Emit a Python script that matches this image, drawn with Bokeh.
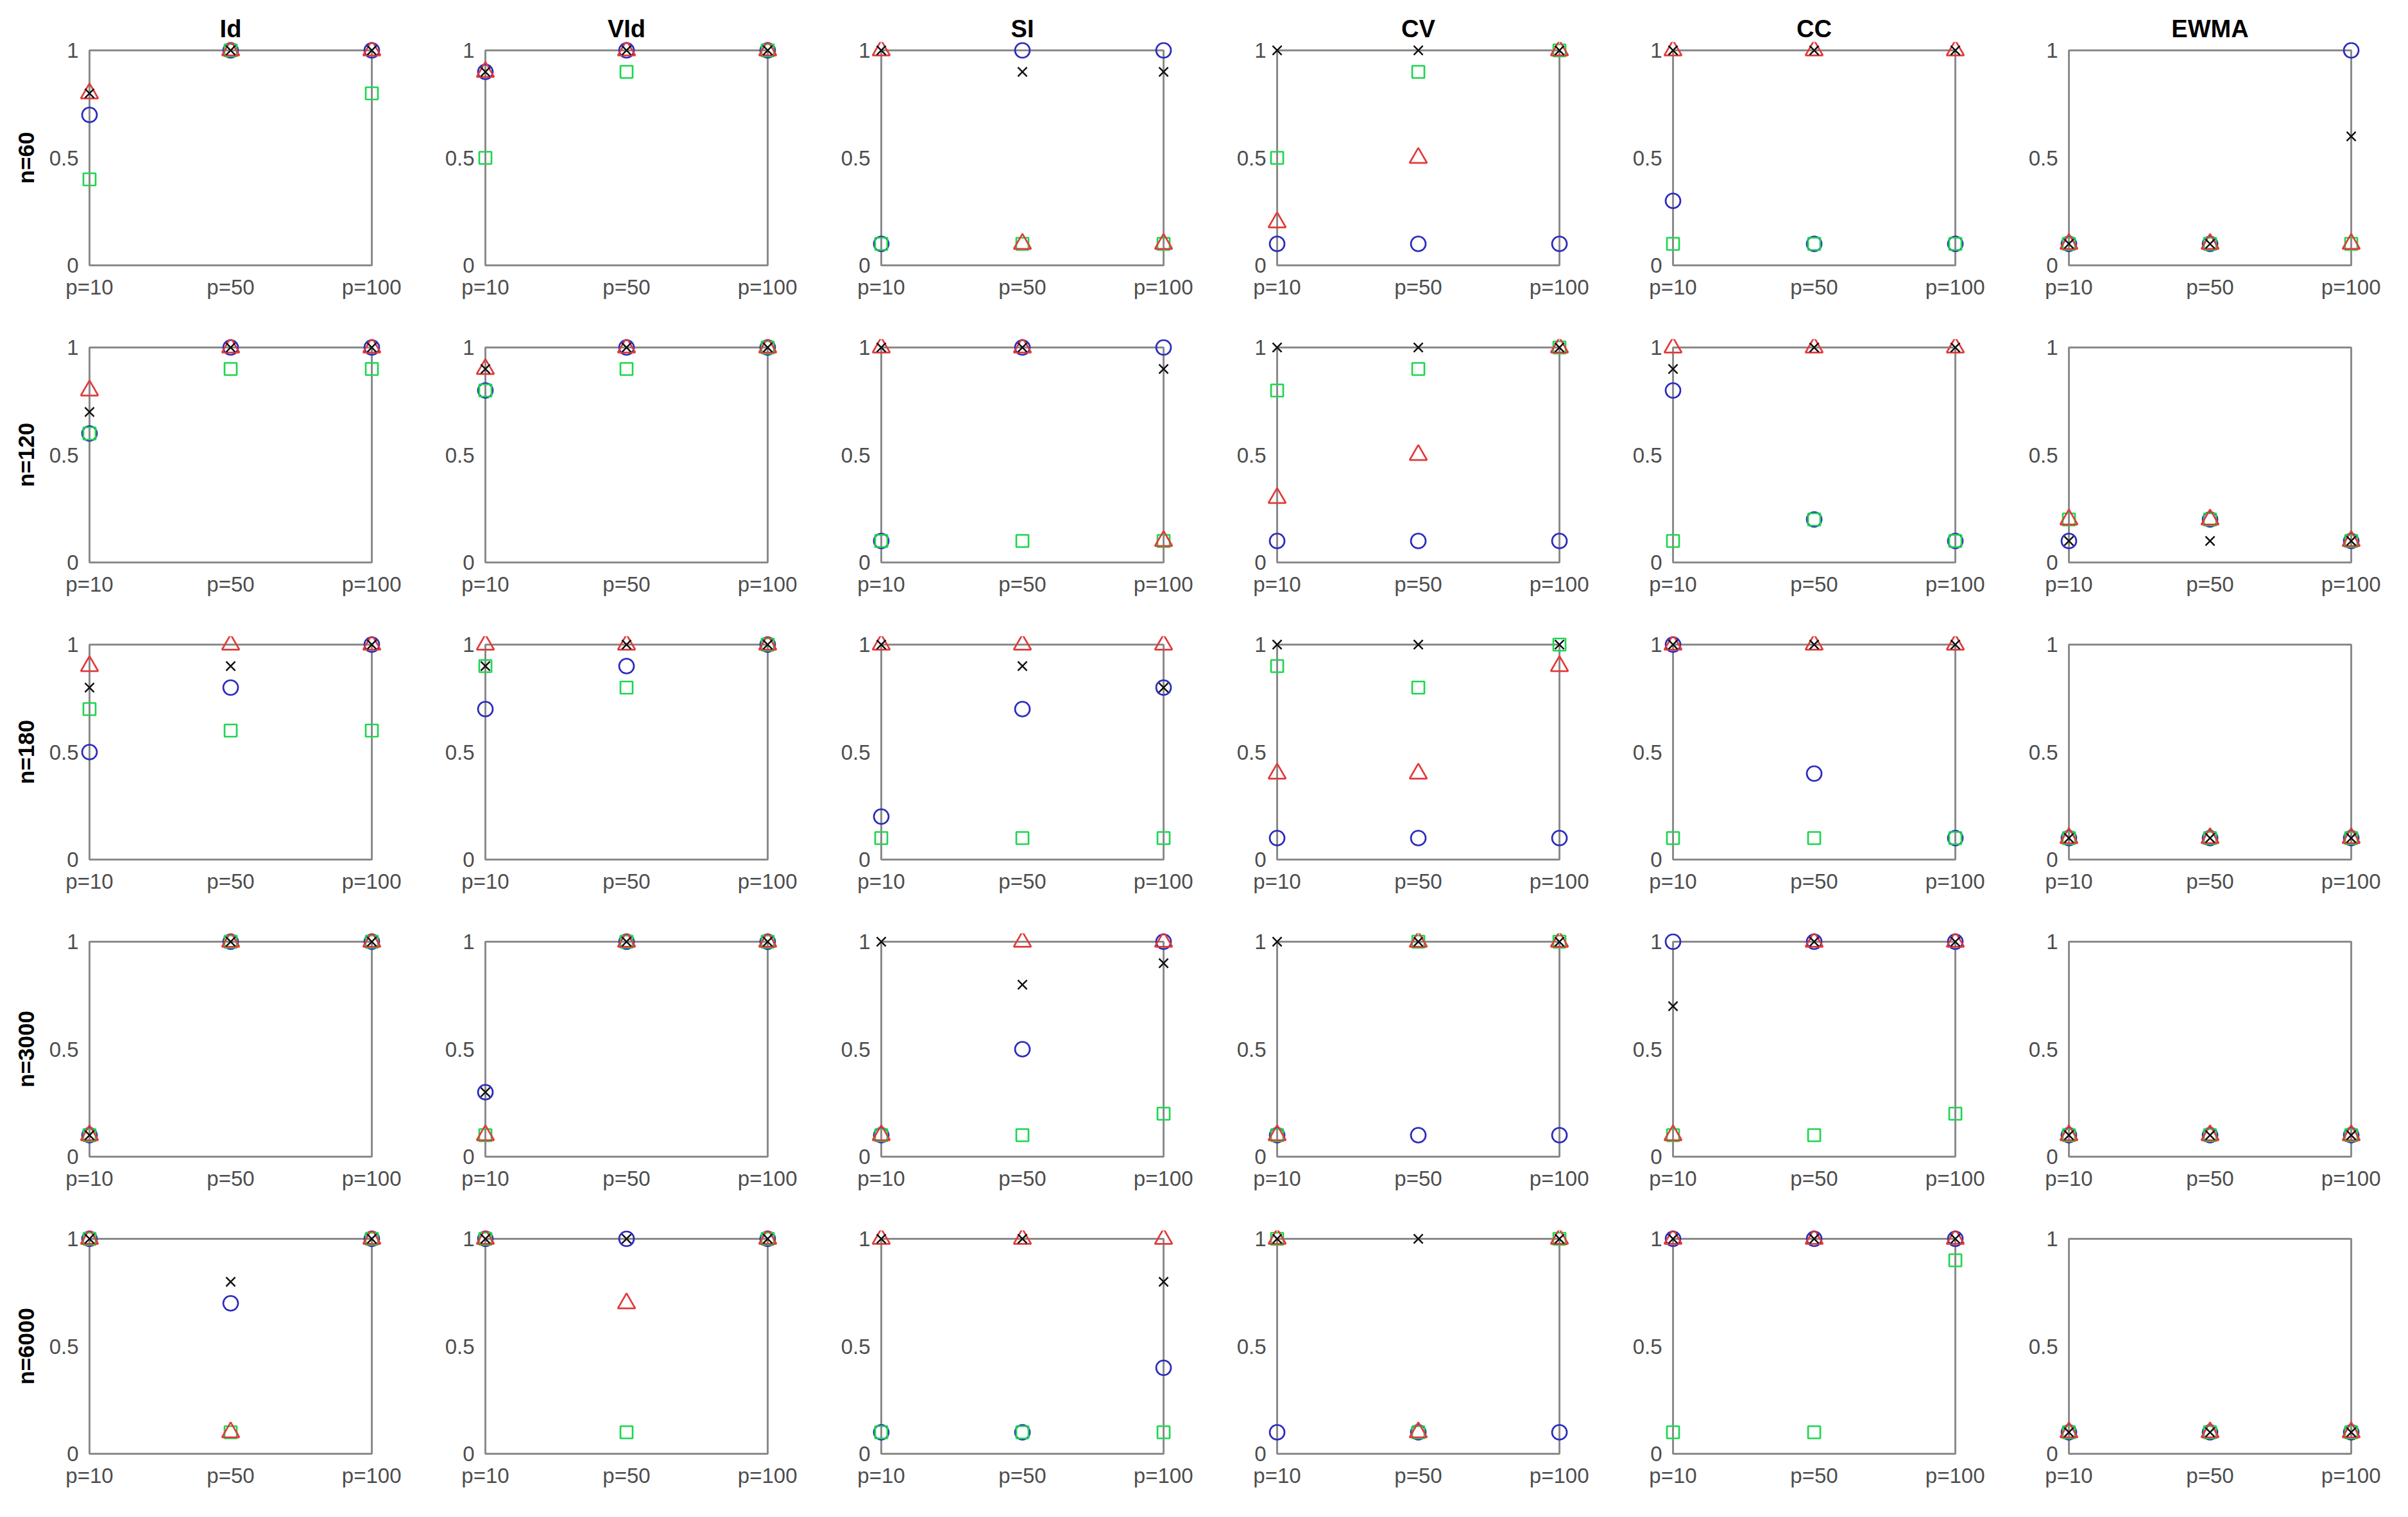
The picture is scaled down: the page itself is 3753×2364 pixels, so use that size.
from bokeh.plotting import figure
from bokeh.layouts import gridplot
from bokeh.models import Range1d, FixedTicker, BoxAnnotation
from bokeh.embed import file_html
from bokeh.resources import INLINE

# ---------------- data ----------------
methods = ["Id", "VId", "SI", "CV", "CC", "EWMA"]
sample_sizes = ["n=60", "n=120", "n=180", "n=3000", "n=6000"]
p_labels = ["p=10", "p=50", "p=100"]
y_ticks = [0, 0.5, 1]
y_tick_labels = ["0", "0.5", "1"]

# values[row][method] -> 3 values (p=10, p=50, p=100)
circles_blue = [
    [[0.7, 1, 1], [0.9, 1, 1], [0.1, 1, 1], [0.1, 0.1, 0.1], [0.3, 0.1, 0.1], [0.1, 0.1, 1]],
    [[0.6, 1, 1], [0.8, 1, 1], [0.1, 1, 1], [0.1, 0.1, 0.1], [0.8, 0.2, 0.1], [0.1, 0.2, 0.1]],
    [[0.5, 0.8, 1], [0.7, 0.9, 1], [0.2, 0.7, 0.8], [0.1, 0.1, 0.1], [1, 0.4, 0.1], [0.1, 0.1, 0.1]],
    [[0.1, 1, 1], [0.3, 1, 1], [0.1, 0.5, 1], [0.1, 0.1, 0.1], [1, 1, 1], [0.1, 0.1, 0.1]],
    [[1, 0.7, 1], [1, 1, 1], [0.1, 0.1, 0.4], [0.1, 0.1, 0.1], [1, 1, 1], [0.1, 0.1, 0.1]],
]
squares_green = [
    [[0.4, 1, 0.8], [0.5, 0.9, 1], [0.1, 0.1, 0.1], [0.5, 0.9, 1], [0.1, 0.1, 0.1], [0.1, 0.1, 0.1]],
    [[0.6, 0.9, 0.9], [0.8, 0.9, 1], [0.1, 0.1, 0.1], [0.8, 0.9, 1], [0.1, 0.2, 0.1], [0.2, 0.2, 0.1]],
    [[0.7, 0.6, 0.6], [0.9, 0.8, 1], [0.1, 0.1, 0.1], [0.9, 0.8, 1], [0.1, 0.1, 0.1], [0.1, 0.1, 0.1]],
    [[0.1, 1, 1], [0.1, 1, 1], [0.1, 0.1, 0.2], [0.1, 1, 1], [0.1, 0.1, 0.2], [0.1, 0.1, 0.1]],
    [[1, 0.1, 1], [1, 0.1, 1], [0.1, 0.1, 0.1], [1, 0.1, 1], [0.1, 0.1, 0.9], [0.1, 0.1, 0.1]],
]
triangles_red = [
    [[0.8, 1, 1], [0.9, 1, 1], [1, 0.1, 0.1], [0.2, 0.5, 1], [1, 1, 1], [0.1, 0.1, 0.1]],
    [[0.8, 1, 1], [0.9, 1, 1], [1, 1, 0.1], [0.3, 0.5, 1], [1, 1, 1], [0.2, 0.2, 0.1]],
    [[0.9, 1, 1], [1, 1, 1], [1, 1, 1], [0.4, 0.4, 0.9], [1, 1, 1], [0.1, 0.1, 0.1]],
    [[0.1, 1, 1], [0.1, 1, 1], [0.1, 1, 1], [0.1, 1, 1], [0.1, 1, 1], [0.1, 0.1, 0.1]],
    [[1, 0.1, 1], [1, 0.7, 1], [1, 1, 1], [1, 0.1, 1], [1, 1, 1], [0.1, 0.1, 0.1]],
]
crosses_black = [
    [[0.8, 1, 1], [0.9, 1, 1], [1, 0.9, 0.9], [1, 1, 1], [1, 1, 1], [0.1, 0.1, 0.6]],
    [[0.7, 1, 1], [0.9, 1, 1], [1, 1, 0.9], [1, 1, 1], [0.9, 1, 1], [0.1, 0.1, 0.1]],
    [[0.8, 0.9, 1], [0.9, 1, 1], [1, 0.9, 0.8], [1, 1, 1], [1, 1, 1], [0.1, 0.1, 0.1]],
    [[0.1, 1, 1], [0.3, 1, 1], [1, 0.8, 0.9], [1, 1, 1], [0.7, 1, 1], [0.1, 0.1, 0.1]],
    [[1, 0.8, 1], [1, 1, 1], [1, 1, 0.8], [1, 1, 1], [1, 1, 1], [0.1, 0.1, 0.1]],
]

# ---------------- styling / layout ----------------
FONT = "Liberation Sans"
SHIFT = 8
CELL_W = 617
ROW_H = 463
BOX_W, BOX_H = 440, 335
PAD_X, PAD_Y = 15, 13
LEFT = 131 - PAD_X
FRAME_W = BOX_W + 2 * PAD_X
FRAME_H = BOX_H + 2 * PAD_Y
RIGHT = CELL_W - LEFT - FRAME_W
BOTTOM = 60
TOP0 = 70 - PAD_Y
H0 = TOP0 + FRAME_H + BOTTOM
TOP = ROW_H - FRAME_H - BOTTOM

BOX_COLOR = "#8a8a8a"
TICK_TEXT = "#4d4d4d"

series = [
    (circles_blue, dict(marker="circle", size=23, line_color="#2b2bbd", line_width=2.7)),
    (squares_green, dict(marker="square", size=19, line_color="#1ed650", line_width=2.7)),
    (triangles_red, dict(marker="triangle", size=27, line_color="#e23a3a", line_width=2.7)),
    (crosses_black, dict(marker="x", size=20, line_color="#111111", line_width=2.5)),
]

xs = list(range(1, len(p_labels) + 1))
x_unit = BOX_W / (xs[-1] - xs[0])
y_unit = BOX_H / (y_ticks[-1] - y_ticks[0])

rows = []
for r, nlab in enumerate(sample_sizes):
    row = []
    for c, meth in enumerate(methods):
        extra_x = SHIFT if c == 0 else 0
        extra_y = SHIFT if r == 0 else 0
        h = (H0 if r == 0 else ROW_H) + extra_y
        top = (TOP0 if r == 0 else TOP) + extra_y
        p = figure(
            width=CELL_W + extra_x, height=h,
            x_range=Range1d(xs[0] - PAD_X / x_unit, xs[-1] + PAD_X / x_unit),
            y_range=Range1d(y_ticks[0] - PAD_Y / y_unit, y_ticks[-1] + PAD_Y / y_unit),
            min_border_left=LEFT + extra_x, min_border_right=RIGHT,
            min_border_top=top, min_border_bottom=BOTTOM,
            output_backend="svg", toolbar_location=None,
            title=meth if r == 0 else None,
        )
        p.outline_line_color = None
        p.grid.visible = False
        p.background_fill_color = "white"
        p.border_fill_color = "white"

        if r == 0:
            p.title.align = "center"
            p.title.text_font = FONT
            p.title.text_font_size = "38px"
            p.title.text_font_style = "bold"
            p.title.text_color = "black"
            p.title.standoff = 0

        # axes box (MATLAB-style)
        p.add_layout(BoxAnnotation(left=xs[0], right=xs[-1], bottom=y_ticks[0], top=y_ticks[-1],
                                   fill_color=None, fill_alpha=0,
                                   line_color=BOX_COLOR, line_alpha=1.0, line_width=3,
                                   level="underlay"))

        xa = p.xaxis[0]
        xa.ticker = FixedTicker(ticks=xs)
        xa.major_label_overrides = {x: lab for x, lab in zip(xs, p_labels)}
        ya = p.yaxis[0]
        ya.ticker = FixedTicker(ticks=y_ticks)
        ya.major_label_overrides = {v: lab for v, lab in zip(y_ticks, y_tick_labels)}
        for ax in (xa, ya):
            ax.axis_line_color = None
            ax.major_tick_line_color = None
            ax.minor_tick_line_color = None
            ax.major_tick_in = 0
            ax.major_tick_out = 0
            ax.major_label_text_font = FONT
            ax.major_label_text_font_size = "33px"
            ax.major_label_text_color = TICK_TEXT
        xa.major_label_standoff = 2
        ya.major_label_standoff = 2
        if c == 0:
            ya.axis_label = nlab
            ya.axis_label_text_font = FONT
            ya.axis_label_text_font_size = "35px"
            ya.axis_label_text_font_style = "bold"
            ya.axis_label_text_color = "black"
            ya.axis_label_standoff = 14

        for data, style in series:
            p.scatter(x=xs, y=data[r][c], fill_color=None, **style)
        row.append(p)
    rows.append(row)

grid = gridplot(rows, toolbar_location=None)
open("out.html", "w").write(file_html(grid, INLINE))
